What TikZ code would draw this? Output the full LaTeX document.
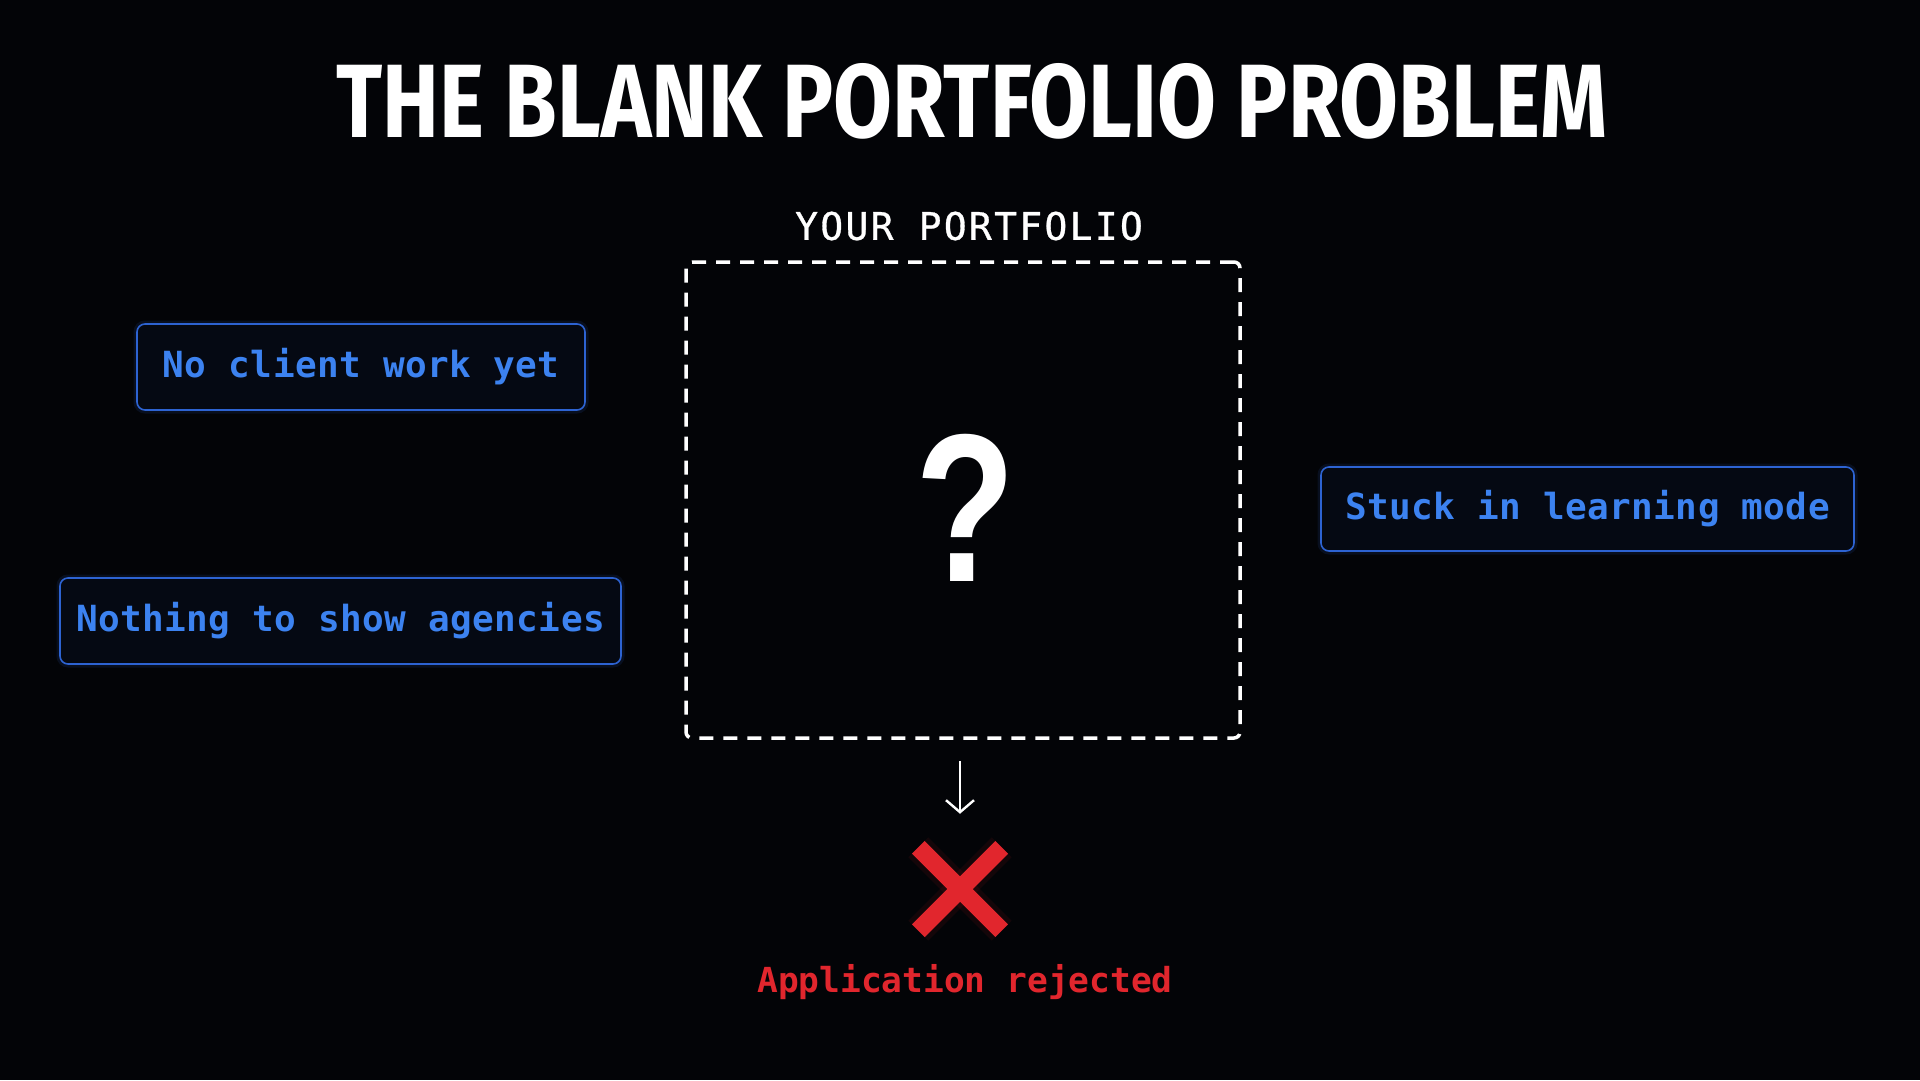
\documentclass[tikz,border=0pt]{standalone}
\usepackage{fontspec}
\usepackage{graphicx}
\usetikzlibrary{arrows.meta}
\newfontfamily\monofont{DejaVu Sans Mono}
\newfontfamily\boxmono[LetterSpace=1.2]{DejaVu Sans Mono}
\newfontfamily\spacedmono[LetterSpace=6,FakeBold=0.8]{DejaVu Sans Mono}
\newfontfamily\titlefont{Fira Sans}
\newfontfamily\qfont{Liberation Sans}
\definecolor{bgcol}{HTML}{030407}
\definecolor{bluetext}{HTML}{3C82F0}
\definecolor{blueline}{HTML}{2D63D2}
\definecolor{boxfill}{HTML}{050913}
\definecolor{redx}{HTML}{E1262D}
\tikzset{
  issuebox/.style={draw=blueline, line width=1.6pt, fill=boxfill, rounded corners=8pt,
    text=bluetext, font=\boxmono\bfseries\fontsize{36}{42}\selectfont,
    inner sep=0pt, minimum height=86pt,
    preaction={draw=blueline, line width=7pt, opacity=0.12}},
  dashedframe/.style={draw=white, line width=3.5pt, dash pattern=on 14pt off 10pt,
    rounded corners=6pt, minimum width=554pt, minimum height=476pt, inner sep=0pt},
  crossline/.style={draw=redx, line width=18pt, line cap=butt},
  crossglow/.style={draw=redx, line width=28pt, opacity=0.08, line cap=butt},
  downarrow/.style={draw=white, line width=2.4pt, -{Straight Barb[length=12pt,width=28pt,line width=2.4pt]}},
}
\begin{document}
\begin{tikzpicture}[x=1pt,y=-1pt]
\fill[bgcol] (0,0) rectangle (1920,1080);
\useasboundingbox (0,0) rectangle (1920,1080);

\node (title) at (972,101) [inner sep=0pt, text=white]
  {\titlefont\bfseries\resizebox{1270pt}{74pt}{THE BLANK PORTFOLIO PROBLEM}};

\node (pflabel) at (969,226) [inner sep=0pt, text=white]
  {\spacedmono\fontsize{38}{44}\selectfont YOUR PORTFOLIO};

\node (pf) at (963,500) [dashedframe] {};

\node (qm) at (966,508) [inner sep=0pt, text=white]
  {\qfont\bfseries\resizebox{100pt}{147pt}{?}};

\node (b1) at (361,367) [issuebox, minimum width=448pt] {No client work yet};
\node (b2) at (340.5,621) [issuebox, minimum width=561pt] {Nothing to show agencies};
\node (b3) at (1587.5,509) [issuebox, minimum width=533pt, minimum height=84pt] {Stuck in learning mode};

\node (xm) at (960,889) [minimum size=95pt, inner sep=0pt] {};
\draw[crossglow] ([shift={(6,6)}]xm.north west) -- ([shift={(-6,-6)}]xm.south east);
\draw[crossglow] ([shift={(-6,6)}]xm.north east) -- ([shift={(6,-6)}]xm.south west);
\draw[crossline] ([shift={(6,6)}]xm.north west) -- ([shift={(-6,-6)}]xm.south east);
\draw[crossline] ([shift={(-6,6)}]xm.north east) -- ([shift={(6,-6)}]xm.south west);

\draw[downarrow] (xm.north |- pf.south) ++(0,21) -- ++(0,53);

\node (rej) at (965,982) [inner sep=0pt, text=redx]
  {\monofont\bfseries\fontsize{34.5}{40}\selectfont Application rejected};
\end{tikzpicture}
\end{document}
